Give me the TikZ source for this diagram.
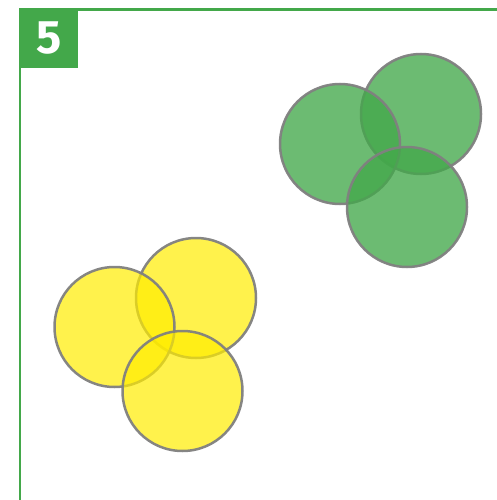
\documentclass[tikz,border=0pt]{standalone}
\usepackage{fontspec}
\setmainfont{Fira Sans}
\definecolor{leaf}{RGB}{67,168,74}
\definecolor{lemon}{RGB}{255,236,0}
\definecolor{rim}{RGB}{128,128,128}

\begin{document}
\begin{tikzpicture}[
  x=1pt, y=-1pt,
  disc/.style={circle, draw=rim, line width=2.5pt, minimum size=120pt, inner sep=0pt, fill opacity=0.78, draw opacity=0.95},
  gdisc/.style={disc, fill=leaf},
  ydisc/.style={disc, fill=lemon, fill opacity=0.7},
  badge/.style={fill=leaf, minimum width=59pt, minimum height=59pt, inner sep=0pt, text=white, font=\fontsize{47}{47}\selectfont\bfseries}
]
\useasboundingbox (0,0) rectangle (497,500);
% frame
\coordinate (corner) at (20,9.5);
\draw[leaf, line width=2.2pt] (20,500) -- (corner) -- (497,9.5);
\node[badge, anchor=north west] (num) at (19,8.5) {5};

% green group
\node[gdisc] (g1) at (421,114) {};
\node[gdisc] (g2) at (340,144) {};
\node[gdisc] (g3) at (407,207) {};

% yellow group
\node[ydisc] (y1) at (196,298) {};
\node[ydisc] (y2) at (114.5,327) {};
\node[ydisc] (y3) at (182.5,391) {};
\end{tikzpicture}
\end{document}
